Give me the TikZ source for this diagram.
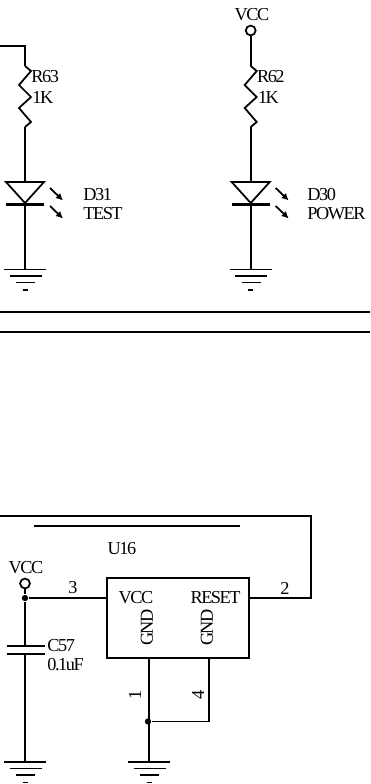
\documentclass[tikz,border=0pt]{standalone}
\usepackage{fontspec}
\setmainfont{Liberation Serif}
\usetikzlibrary{arrows.meta}
\tikzset{
    wire/.style = {line width = 1pt},
    label/.style = {inner sep = 0, font = \fontsize{10.4}{11}\selectfont\addfontfeature{LetterSpace=-8}},
    leftlabel/.style = {label, anchor = west},
    junction/.style = {circle, fill = black, inner sep = 0, minimum size = 3.6pt},
    terminal/.style = {circle, draw, wire, fill = white, inner sep = 0, minimum size = 5.6pt},
    ledarrow/.style = {wire, -{Latex[length=4pt,width=4pt]}}
}
\newcommand\drawGround{
    \draw[wire] (-21,0)--(21,0);
    \draw[wire] (-15.5,6.5)--(16.5,6.5);
    \draw[wire] (-9,13)--(10,13);
    \draw[wire] (-2.5,20.5)--(2.5,20.5);
}
\newcommand\drawResistor{
    \draw[wire] (0,0)--(6,5)--(-6,19)--(6,31)--(-6,42)--(6,56)--(0,61);
}
\newcommand\drawLed{
    \draw[wire] (-19,0)--(19,0)--(0,21)--cycle;
    \draw[line width = 1.9pt] (-19,22.5)--(19,22.5);
    \draw[ledarrow] (25,6)--(38,18.5);
    \draw[ledarrow] (25,24)--(38,36.5);
}
\begin{document}
\begin{tikzpicture}[x = 0.02cm, y = -0.02cm]
        \useasboundingbox (0,0) rectangle (370,784);
        \fill[white] (0,0) rectangle (370,784);

        % LED branches
        \foreach \xoffset/\ydes/\rdes/\dtext/\ltext/\xtext in {25/a/R63/D31/TEST/83,250.7/b/R62/D30/POWER/307}
        {
            \begin{scope}[shift = {(\xoffset,66)}]
                \drawResistor;
            \end{scope}
            \begin{scope}[shift = {(\xoffset,182)}]
                \drawLed;
            \end{scope}
            \begin{scope}[shift = {(\xoffset,269.5)}]
                \drawGround;
            \end{scope}
            \draw[wire] (\xoffset,127)--(\xoffset,182);
            \draw[wire] (\xoffset,203)--(\xoffset,269.5);
            \node[leftlabel] (rdes\ydes) at (\xoffset+6,76.5) {\rdes};
            \node[leftlabel] (rval\ydes) at (\xoffset+7,97) {1K};
            \node[leftlabel] (ddes\ydes) at (\xtext,194.5) {\dtext};
            \node[leftlabel] (dtxt\ydes) at (\xtext,214) {\ltext};
        }
        \draw[wire] (0,46)--(25,46)--(25,66);
        \node[terminal] (vcctop) at (250.7,30.5) {};
        \node[label] (vcctoplabel) at (252,14.5) {VCC};
        \draw[wire] (vcctop)--(250.7,66);

        % separator
        \draw[wire] (0,312)--(370,312);
        \draw[wire] (0,332)--(370,332);

        % U16
        \node[draw, wire, minimum width = 142*0.02cm, minimum height = 80*0.02cm, inner sep = 0] (ic) at (178,618) {};
        \node[label] (icname) at (122,548.5) {U16};
        \node[label] (icvcc) at (136,598) {VCC};
        \node[label] (icreset) at (215.5,598) {RESET};
        \node[label, rotate = 90] (icgnda) at (147,627.5) {GND};
        \node[label, rotate = 90] (icgndb) at (207,627.5) {GND};
        \draw[wire] (34,526)--(240,526);
        \coordinate (pinthree) at (ic.west |- 0,598);
        \coordinate (pintwo) at (ic.east |- 0,598);
        \coordinate (pinone) at (149,658);
        \coordinate (pinfour) at (209,658);

        \node[terminal] (vccbot) at (25,583.5) {};
        \node[label] (vccbotlabel) at (26,568) {VCC};
        \node[junction] (jvcc) at (25,598) {};
        \node[junction] (jgnd) at (148,721.5) {};
        \draw[wire] (vccbot)--(jvcc);
        \draw[wire] (jvcc)--(pinthree);
        \draw[wire] (pintwo)--(311,598)--(311,516)--(0,516);
        \draw[wire] (pinone)--(149,762);
        \draw[wire] (pinfour)--(209,721.5)--(jgnd);
        \node[label] (pinthreelabel) at (73,588) {3};
        \node[label] (pintwolabel) at (285,588) {2};
        \node[label, rotate = 90] (pinonelabel) at (135,695) {1};
        \node[label, rotate = 90] (pinfourlabel) at (198,695) {4};

        % C57
        \draw[wire] (jvcc)--(25,646);
        \draw[wire] (7,646)--(45,646);
        \draw[wire] (7,654)--(45,654);
        \draw[wire] (25,654)--(25,762);
        \node[leftlabel] (cdes) at (47,646) {C57};
        \node[leftlabel] (cval) at (47,665) {0.1uF};

        \foreach \xoffset in {25,149}{
            \begin{scope}[shift = {(\xoffset,762)}]
                \drawGround;
            \end{scope}
        }
    \end{tikzpicture}
\end{document}
